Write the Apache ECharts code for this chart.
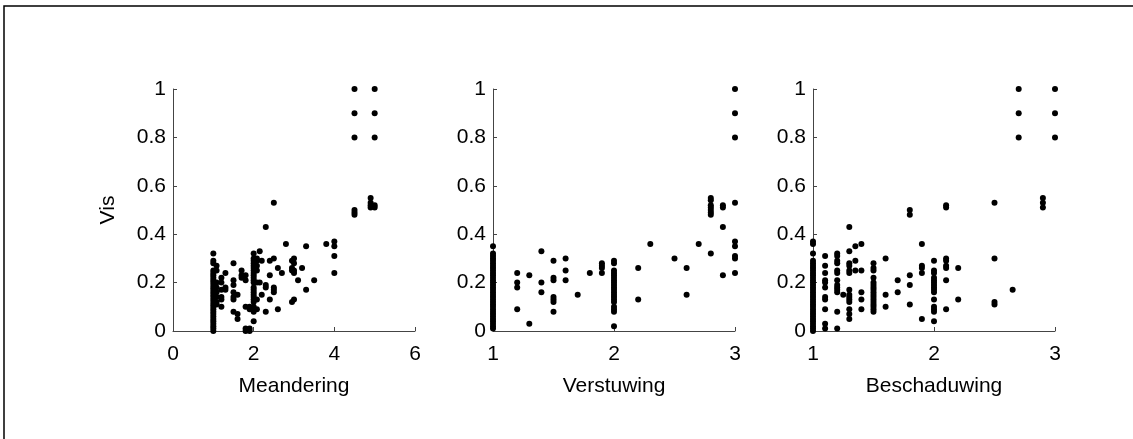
<!DOCTYPE html>
<html>
<head>
<meta charset="utf-8">
<script src="https://cdn.jsdelivr.net/npm/echarts@6/dist/echarts.min.js"></script>
<style>
  html, body { margin: 0; padding: 0; background: #fff; }
  #main { width: 1133px; height: 439px; }
</style>
</head>
<body>
<div id="main"></div>
<script>
// kolommen: [x, [y-waarden]]
var meanderingCols = [
  [1, [0, 0.01, 0.02, 0.03, 0.04, 0.05, 0.06, 0.07, 0.08, 0.09, 0.1, 0.11, 0.12, 0.13, 0.14, 0.15, 0.16, 0.17, 0.18, 0.19, 0.2, 0.21, 0.22, 0.23, 0.24, 0.25, 0.28, 0.29, 0.32]],
  [1.08, [0.27, 0.25, 0.2, 0.18, 0.16, 0.14, 0.12, 0.11]],
  [1.2, [0.22, 0.2, 0.17, 0.14, 0.13, 0.1]],
  [1.3, [0.24, 0.18, 0.17]],
  [1.5, [0.28, 0.21, 0.19, 0.16, 0.14, 0.13, 0.08]],
  [1.6, [0.15, 0.07, 0.05]],
  [1.7, [0.25, 0.23, 0.22]],
  [1.8, [0.23, 0.21, 0.1, 0.01, 0]],
  [1.9, [0.1, 0.09, 0.01, 0]],
  [2, [0.32, 0.3, 0.29, 0.28, 0.27, 0.26, 0.25, 0.24, 0.23, 0.22, 0.21, 0.2, 0.18, 0.17, 0.16, 0.15, 0.14, 0.13, 0.12, 0.1, 0.09, 0.08, 0.04]],
  [2.08, [0.3, 0.29, 0.27, 0.25, 0.2, 0.13, 0.09]],
  [2.15, [0.33, 0.2]],
  [2.2, [0.29, 0.15]],
  [2.3, [0.43, 0.19, 0.18, 0.08]],
  [2.4, [0.29, 0.23, 0.13]],
  [2.5, [0.53, 0.3, 0.18, 0.17, 0.16]],
  [2.6, [0.26, 0.09]],
  [2.7, [0.24]],
  [2.8, [0.36]],
  [2.95, [0.29, 0.26, 0.25, 0.12]],
  [3, [0.3, 0.28, 0.25, 0.24, 0.13]],
  [3.1, [0.21]],
  [3.2, [0.26]],
  [3.3, [0.35, 0.17]],
  [3.5, [0.21]],
  [3.8, [0.36]],
  [4, [0.37, 0.35, 0.31, 0.24]],
  [4.5, [1, 0.9, 0.8, 0.5, 0.49, 0.48]],
  [4.9, [0.55, 0.53, 0.52, 0.51]],
  [5, [1, 0.9, 0.8, 0.52, 0.51]]
];
var verstuwingCols = [
  [1, [0.01, 0.02, 0.03, 0.04, 0.05, 0.06, 0.07, 0.08, 0.09, 0.1, 0.11, 0.12, 0.13, 0.14, 0.15, 0.16, 0.17, 0.18, 0.19, 0.2, 0.21, 0.22, 0.23, 0.24, 0.25, 0.26, 0.27, 0.28, 0.29, 0.3, 0.31, 0.32, 0.35]],
  [1.2, [0.24, 0.2, 0.18, 0.09]],
  [1.3, [0.23, 0.03]],
  [1.4, [0.33, 0.2, 0.16]],
  [1.5, [0.29, 0.22, 0.21, 0.14, 0.13, 0.12, 0.08]],
  [1.6, [0.3, 0.25, 0.21]],
  [1.7, [0.15]],
  [1.8, [0.24]],
  [1.9, [0.28, 0.27, 0.26, 0.24]],
  [2, [0.29, 0.28, 0.25, 0.24, 0.23, 0.22, 0.21, 0.2, 0.19, 0.18, 0.17, 0.16, 0.15, 0.14, 0.13, 0.12, 0.1, 0.09, 0.08, 0.02]],
  [2.2, [0.26, 0.13]],
  [2.3, [0.36]],
  [2.5, [0.3]],
  [2.6, [0.26, 0.15]],
  [2.7, [0.36]],
  [2.8, [0.55, 0.54, 0.52, 0.51, 0.5, 0.49, 0.48, 0.32]],
  [2.9, [0.52, 0.51, 0.43, 0.23]],
  [3, [1, 0.9, 0.8, 0.53, 0.37, 0.35, 0.31, 0.3, 0.24]]
];
var beschaduwingCols = [
  [1, [0, 0.01, 0.02, 0.03, 0.04, 0.05, 0.06, 0.07, 0.08, 0.09, 0.1, 0.11, 0.12, 0.13, 0.14, 0.15, 0.16, 0.17, 0.18, 0.19, 0.2, 0.21, 0.22, 0.23, 0.24, 0.25, 0.26, 0.27, 0.28, 0.29, 0.32, 0.36, 0.37]],
  [1.1, [0.31, 0.27, 0.24, 0.21, 0.2, 0.18, 0.14, 0.13, 0.09, 0.03, 0.01]],
  [1.2, [0.32, 0.31, 0.29, 0.28, 0.25, 0.24, 0.21, 0.19, 0.18, 0.17, 0.16, 0.08, 0.01]],
  [1.25, [0.15]],
  [1.3, [0.43, 0.33, 0.28, 0.27, 0.25, 0.24, 0.17, 0.15, 0.14, 0.13, 0.12, 0.09, 0.07, 0.05]],
  [1.35, [0.35, 0.29, 0.25]],
  [1.4, [0.36, 0.25, 0.16, 0.13, 0.09]],
  [1.5, [0.28, 0.26, 0.25, 0.22, 0.2, 0.19, 0.18, 0.17, 0.16, 0.15, 0.14, 0.13, 0.12, 0.11, 0.1, 0.09, 0.08]],
  [1.6, [0.3, 0.15, 0.1]],
  [1.7, [0.21, 0.16]],
  [1.8, [0.5, 0.48, 0.23, 0.19, 0.11]],
  [1.9, [0.36, 0.27, 0.26, 0.24, 0.05]],
  [2, [0.29, 0.25, 0.24, 0.22, 0.21, 0.2, 0.19, 0.18, 0.17, 0.16, 0.13, 0.1, 0.09, 0.08, 0.04]],
  [2.1, [0.52, 0.51, 0.3, 0.29, 0.27, 0.26, 0.21, 0.09]],
  [2.2, [0.26, 0.13]],
  [2.5, [0.53, 0.3, 0.12, 0.11]],
  [2.65, [0.17]],
  [2.7, [1, 0.9, 0.8]],
  [2.9, [0.55, 0.53, 0.51]],
  [3, [1, 0.9, 0.8]]
];
var xNames = ['Meandering', 'Verstuwing', 'Beschaduwing'];
var xRanges = [[0, 6, 2], [1, 3, 1], [1, 3, 1]];
var yName = 'Vis';

function toPoints(cols) {
  var pts = [];
  cols.forEach(function (c) {
    c[1].forEach(function (y) { pts.push([c[0], y]); });
  });
  return pts;
}

var allCols = [meanderingCols, verstuwingCols, beschaduwingCols];
var lefts = [173, 493, 813];
var font = 'Arial, "Liberation Sans", sans-serif';
var axisCol = '#444';

var grids = [], xAxes = [], yAxes = [], series = [];
for (var i = 0; i < 3; i++) {
  grids.push({ left: lefts[i], top: 89, width: 242, height: 242 });
  xAxes.push({
    gridIndex: i, type: 'value',
    min: xRanges[i][0], max: xRanges[i][1], interval: xRanges[i][2],
    name: xNames[i], nameLocation: 'middle', nameGap: 45,
    nameTextStyle: { fontFamily: font, fontSize: 21, color: '#000' },
    axisLine: { lineStyle: { color: axisCol, width: 1 } },
    axisTick: { inside: true, length: 4, lineStyle: { color: axisCol } },
    axisLabel: { fontFamily: font, fontSize: 21, color: '#000', margin: 13 },
    splitLine: { show: false }
  });
  yAxes.push({
    gridIndex: i, type: 'value', min: 0, max: 1, interval: 0.2,
    name: i === 0 ? yName : '', nameLocation: 'middle', nameGap: 54,
    nameTextStyle: { fontFamily: font, fontSize: 21, color: '#000' },
    axisLine: { show: true, lineStyle: { color: axisCol, width: 1 } },
    axisTick: { show: true, inside: true, length: 4, lineStyle: { color: axisCol } },
    axisLabel: { fontFamily: font, fontSize: 21, color: '#000', margin: 7 },
    splitLine: { show: false }
  });
  series.push({
    type: 'scatter', xAxisIndex: i, yAxisIndex: i,
    symbol: 'circle', symbolSize: 6,
    itemStyle: { color: '#000', opacity: 1 },
    data: toPoints(allCols[i])
  });
}

var myChart = echarts.init(document.getElementById('main'), null, { renderer: 'canvas' });
myChart.setOption({
  backgroundColor: '#fff',
  animation: false,
  grid: grids,
  xAxis: xAxes,
  yAxis: yAxes,
  series: series,
  graphic: [{
    type: 'rect', silent: true,
    shape: { x: 4, y: 6, width: 1200, height: 500 },
    style: { fill: null, stroke: '#000', lineWidth: 1.5 }
  }]
});
</script>
</body>
</html>
